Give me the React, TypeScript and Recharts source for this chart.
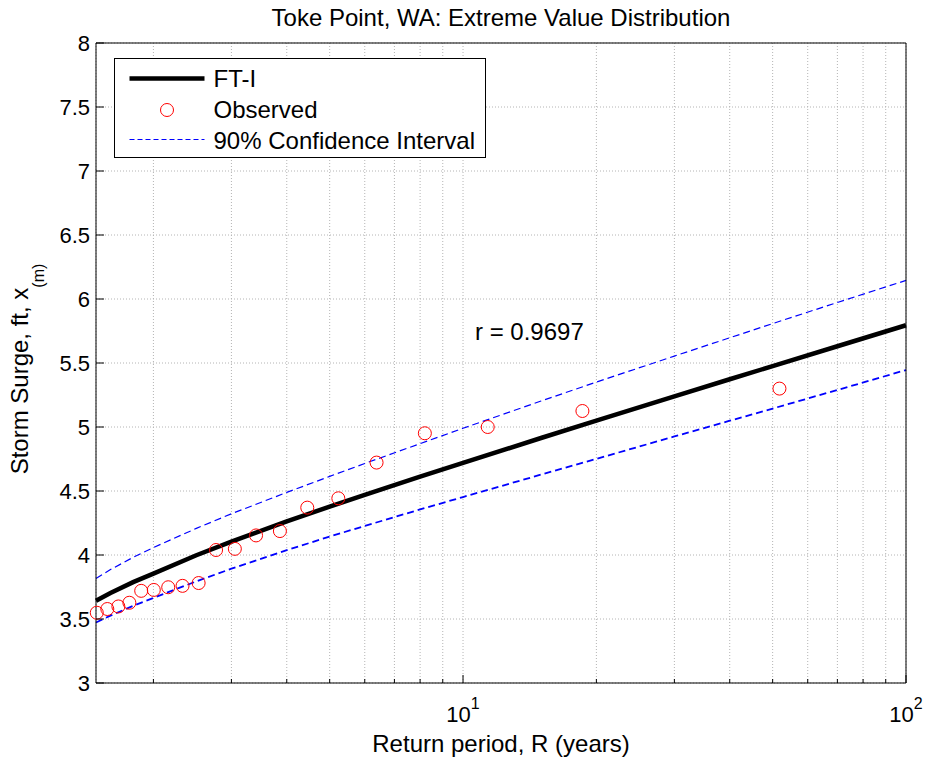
import { ComposedChart, Line, Scatter, XAxis, YAxis, CartesianGrid } from 'recharts';

// return periods (years) and storm surge (ft)
const obsPeriods = [1.49, 1.574, 1.667, 1.765, 1.877, 2.004, 2.16, 2.327, 2.53, 2.77, 3.054, 3.41, 3.86, 4.45, 5.23, 6.38, 8.2, 11.37, 18.6, 51.8];
const obsSurge = [3.549, 3.578, 3.598, 3.627, 3.72, 3.727, 3.748, 3.759, 3.781, 4.039, 4.048, 4.153, 4.187, 4.37, 4.443, 4.722, 4.951, 5.0, 5.125, 5.3];

const curvePeriods = [1.484, 1.6, 1.8, 2, 2.5, 3, 4, 5, 6, 8, 10, 15, 20, 30, 40, 50, 70, 100];
const fitSurge = [3.642, 3.703, 3.788, 3.855, 3.998, 4.105, 4.262, 4.378, 4.47, 4.612, 4.72, 4.914, 5.05, 5.24, 5.373, 5.476, 5.631, 5.795];
const upperSurge = [3.817, 3.886, 3.982, 4.058, 4.208, 4.322, 4.489, 4.614, 4.715, 4.87, 4.99, 5.203, 5.351, 5.554, 5.697, 5.808, 5.973, 6.145];
const lowerSurge = [3.473, 3.526, 3.603, 3.665, 3.794, 3.893, 4.038, 4.144, 4.227, 4.356, 4.453, 4.628, 4.751, 4.926, 5.049, 5.144, 5.289, 5.445];

const xTicks = [2, 3, 4, 5, 6, 7, 8, 9, 10, 20, 30, 40, 50, 60, 70, 80, 90, 100];
const yTicks = [3, 3.5, 4, 4.5, 5, 5.5, 6, 6.5, 7, 7.5, 8];
const xDomain = [1.484, 100];
const yDomain = [3, 8];

const obsData = obsPeriods.map((r, i) => ({ r, v: obsSurge[i] }));
const fitData = curvePeriods.map((r, i) => ({ r, v: fitSurge[i] }));
const upperData = curvePeriods.map((r, i) => ({ r, v: upperSurge[i] }));
const lowerData = curvePeriods.map((r, i) => ({ r, v: lowerSurge[i] }));

const FONT = '"Liberation Sans", Arial, Helvetica, sans-serif';
const isDecade = (v: number) => v === 10 || v === 100;

function BottomTick({ x, y, payload }: any) {
  const v = payload.value;
  const major = isDecade(v);
  return (
    <g>
      <line x1={x} x2={x} y1={y} y2={y - (major ? 8 : 4)} stroke="#000" />
      {major && (
        <text x={x} y={y + 39} textAnchor="middle" fontSize={22} fill="#000">
          10<tspan dy={-13} fontSize={16}>{v === 10 ? '1' : '2'}</tspan>
        </text>
      )}
    </g>
  );
}

function TopTick({ x, y, payload }: any) {
  const major = isDecade(payload.value);
  return <line x1={x} x2={x} y1={y} y2={y + (major ? 8 : 4)} stroke="#000" />;
}

function LeftTick({ x, y, payload }: any) {
  return (
    <g>
      <line x1={x} x2={x + 8} y1={y} y2={y} stroke="#000" />
      <text x={x - 6} y={y + 8} textAnchor="end" fontSize={22} fill="#000">{String(payload.value)}</text>
    </g>
  );
}

function RightTick({ x, y }: any) {
  return <line x1={x} x2={x - 8} y1={y} y2={y} stroke="#000" />;
}

const ring = (p: any) => <circle cx={p.cx} cy={p.cy} r={6.5} fill="none" stroke="#ff0000" strokeWidth={1} />;

export default function App() {
  return (
    <div style={{ position: 'absolute', left: 0, top: 0, width: 926, height: 762, background: '#fff', fontFamily: FONT }}>
      <ComposedChart width={926} height={762} margin={{ top: 42, right: 19, bottom: 78, left: 95 }}>
        <CartesianGrid stroke="#b4b4b4" strokeDasharray="1 2" />
        <XAxis
          type="number"
          dataKey="r"
          scale="log"
          domain={xDomain}
          ticks={xTicks}
          interval={0}
          height={1}
          tickSize={0}
          tickMargin={0}
          tickLine={false}
          axisLine={{ stroke: '#000' }}
          tick={<BottomTick />}
        />
        <XAxis
          xAxisId="top"
          orientation="top"
          type="number"
          dataKey="r"
          scale="log"
          domain={xDomain}
          ticks={xTicks}
          interval={0}
          height={1}
          tickSize={0}
          tickMargin={0}
          tickLine={false}
          axisLine={{ stroke: '#000' }}
          tick={<TopTick />}
        />
        <YAxis
          type="number"
          dataKey="v"
          domain={yDomain}
          ticks={yTicks}
          interval={0}
          width={1}
          tickSize={0}
          tickMargin={0}
          tickLine={false}
          axisLine={{ stroke: '#000' }}
          tick={<LeftTick />}
        />
        <YAxis
          yAxisId="right"
          orientation="right"
          type="number"
          dataKey="v"
          domain={yDomain}
          ticks={yTicks}
          interval={0}
          width={1}
          tickSize={0}
          tickMargin={0}
          tickLine={false}
          axisLine={{ stroke: '#000' }}
          tick={<RightTick />}
        />
        <Line data={fitData} dataKey="v" type="linear" stroke="#000" strokeWidth={4.5} dot={false} isAnimationActive={false} />
        <Scatter data={obsData} dataKey="v" shape={ring} isAnimationActive={false} />
        <Line data={upperData} dataKey="v" type="linear" stroke="#0000ff" strokeWidth={1.2} strokeDasharray="7 4" dot={false} isAnimationActive={false} />
        <Line data={lowerData} dataKey="v" type="linear" stroke="#0000ff" strokeWidth={1.8} strokeDasharray="7 4" dot={false} isAnimationActive={false} />
      </ComposedChart>

      <svg width={926} height={762} style={{ position: 'absolute', left: 0, top: 0, pointerEvents: 'none' }}>
        <text x={501} y={26} textAnchor="middle" fontSize={24}>Toke Point, WA: Extreme Value Distribution</text>
        <text x={501} y={752} textAnchor="middle" fontSize={24}>Return period, R (years)</text>
        <text transform="translate(28, 369) rotate(-90)" textAnchor="middle" fontSize={24}>
          Storm Surge, ft, x<tspan dy={16} fontSize={16}>(m)</tspan>
        </text>
        <text x={475} y={340} fontSize={24}>r = 0.9697</text>

        <g transform="translate(114.5, 58.5)">
          <rect x={0} y={0} width={371} height={99} fill="#fff" stroke="#000" strokeWidth={1} />
          <line x1={15} x2={90} y1={20} y2={20} stroke="#000" strokeWidth={4.5} />
          <text x={99} y={28.2} fontSize={24}>FT-I</text>
          <circle cx={52.5} cy={51.5} r={6.5} fill="none" stroke="#ff0000" strokeWidth={1} />
          <text x={99} y={59.5} fontSize={24}>Observed</text>
          <line x1={15} x2={90} y1={81} y2={81} stroke="#0000ff" strokeWidth={1} strokeDasharray="5 3" />
          <text x={99} y={90.8} fontSize={24}>90% Confidence Interval</text>
        </g>
      </svg>
    </div>
  );
}
